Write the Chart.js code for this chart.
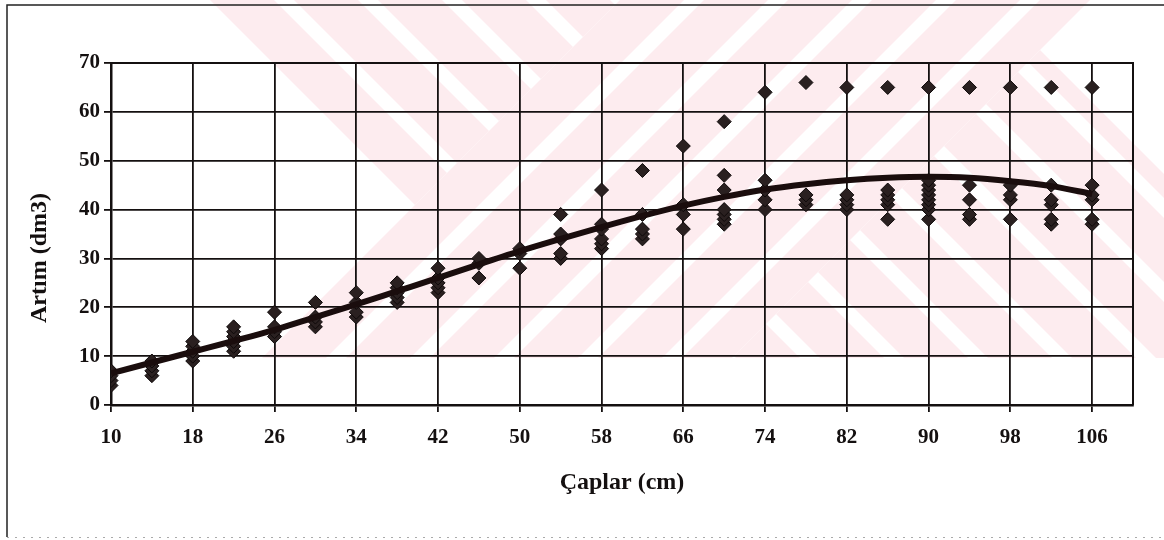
<!DOCTYPE html>
<html>
<head>
<meta charset="utf-8">
<script src="https://cdn.jsdelivr.net/npm/chart.js@4/dist/chart.umd.min.js"></script>
<style>
  html, body { margin: 0; padding: 0; background: #fff; }
  #wrap { position: relative; width: 1164px; height: 540px; }
</style>
</head>
<body>
<div id="wrap"><canvas id="c" width="1164" height="540"></canvas></div>
<script>
// ---- data ----
const diameters = [10,14,18,22,26,30,34,38,42,46,50,54,58,62,66,70,74,78,82,86,90,94,98,102,106];
const increments = [
  [4,5,6,7],
  [6,7,8,9],
  [9,10,11,12,13],
  [11,12,13,14,15,16],
  [14,15,16,19],
  [16,17,18,21],
  [18,19,21,23],
  [21,22,23,24,25],
  [23,24,25,26,28],
  [26,29,30],
  [28,31,32],
  [30,31,34,35,39],
  [32,33,34,36,37,44],
  [34,35,36,39,48],
  [36,39,41,53],
  [37,38,39,40,44,47,58],
  [40,42,44,46,64],
  [41,42,43,66],
  [40,41,42,43,65],
  [38,41,42,43,44,65],
  [38,40,41,42,43,44,45,46,65],
  [38,39,42,45,65],
  [38,42,43,45,65],
  [37,38,41,42,45,65],
  [37,38,42,43,45,65]
];
const trendValues = [6.5,8.7,10.9,13.1,15.4,18,20.6,23.3,26,28.8,31.5,34,36.4,38.7,40.8,42.6,44.1,45.2,46,46.5,46.7,46.5,45.8,44.8,43.2];
const xTickValues = [10,18,26,34,42,50,58,66,74,82,90,98,106];
const yTickValues = [0,10,20,30,40,50,60,70];
const xTitle = 'Çaplar (cm)';
const yTitle = 'Artım (dm3)';

// build datasets from arrays
const scatterPoints = [];
diameters.forEach((d, i) => increments[i].forEach(v => scatterPoints.push({x: d, y: v})));
const trendPoints = diameters.map((d, i) => ({x: d, y: trendValues[i]}));

const FONT = '"Liberation Serif", "Times New Roman", serif';
const INK = '#141010';

function stripes(ctx, from, to, dir, H) {
  // dir = 1 for "\" bands (x - y = d), -1 for "/" bands (x + y = d)
  for (let d = from; d < to; d += 84) {
    const w = Math.min(64, to - d);
    ctx.beginPath();
    ctx.moveTo(d, 0); ctx.lineTo(d + w, 0);
    ctx.lineTo(d + w + dir * H, H); ctx.lineTo(d + dir * H, H);
    ctx.closePath(); ctx.fill();
  }
}

const backdrop = {
  id: 'backdrop',
  beforeDraw(chart) {
    const ctx = chart.ctx;
    ctx.save();
    ctx.fillStyle = '#fff';
    ctx.fillRect(0, 0, chart.width, chart.height);
    // faint watermark of the scanned page
    const H = 358;
    ctx.beginPath();
    ctx.rect(205, 0, 959, H);
    ctx.clip();
    ctx.fillStyle = '#fdecef';
    stripes(ctx, 210, 990, 1, H);
    // "/" arm lies over the "\" arm
    ctx.fillStyle = '#fff';
    ctx.beginPath();
    ctx.moveTo(620, 0); ctx.lineTo(1090, 0); ctx.lineTo(1090 - H, H); ctx.lineTo(620 - H, H);
    ctx.closePath(); ctx.fill();
    ctx.fillStyle = '#fdecef';
    stripes(ctx, 620, 1090, -1, H);
    ctx.restore();
  },
  afterDraw(chart) {
    const ctx = chart.ctx;
    const a = chart.chartArea;
    ctx.save();
    // plot frame top & right
    ctx.strokeStyle = INK;
    ctx.lineWidth = 2;
    ctx.beginPath();
    ctx.moveTo(a.left, a.top); ctx.lineTo(a.right, a.top); ctx.lineTo(a.right, a.bottom);
    ctx.stroke();
    // outer frame of the figure
    ctx.lineWidth = 1.5;
    ctx.strokeStyle = '#222';
    ctx.beginPath();
    ctx.moveTo(7, 537); ctx.lineTo(7, 5); ctx.lineTo(1164, 5);
    ctx.stroke();
    ctx.strokeStyle = '#aaa';
    ctx.lineWidth = 1;
    ctx.setLineDash([2, 6]);
    ctx.beginPath();
    ctx.moveTo(7, 537.5); ctx.lineTo(1164, 537.5);
    ctx.stroke();
    ctx.setLineDash([]);
    // y axis title
    ctx.translate(40, 258);
    ctx.rotate(-Math.PI / 2);
    ctx.fillStyle = INK;
    ctx.font = 'bold 24px ' + FONT;
    ctx.textAlign = 'center';
    ctx.textBaseline = 'middle';
    ctx.fillText(yTitle, 0, 0);
    ctx.restore();
  }
};

new Chart(document.getElementById('c'), {
  type: 'scatter',
  data: {
    datasets: [
      {
        label: 'Trend',
        data: trendPoints,
        showLine: true,
        borderColor: '#1a0d0d',
        borderWidth: 6,
        pointRadius: 0,
        tension: 0.4,
        cubicInterpolationMode: 'monotone',
        order: 0
      },
      {
        label: 'Artım',
        data: scatterPoints,
        pointStyle: 'rectRot',
        pointRadius: 7,
        backgroundColor: '#2a2020',
        borderColor: '#0e0909',
        borderWidth: 1,
        order: 1
      }
    ]
  },
  plugins: [backdrop],
  options: {
    responsive: false,
    animation: false,
    events: [],
    layout: { padding: { left: 0, top: 63, right: 31, bottom: 0 } },
    plugins: { legend: { display: false }, tooltip: { enabled: false } },
    scales: {
      x: {
        type: 'linear',
        min: 10,
        max: 110,
        afterBuildTicks(scale) { scale.ticks = xTickValues.map(v => ({ value: v })); },
        afterFit(scale) { scale.height = 135; },
        grid: { color: INK, lineWidth: 1.8, tickLength: 7, drawTicks: true },
        border: { display: true, color: INK, width: 2.5 },
        ticks: {
          color: INK,
          font: { family: FONT, size: 21, weight: 'bold' },
          padding: 13,
          maxRotation: 0,
          autoSkip: false,
          callback: v => String(v)
        },
        title: {
          display: true,
          text: xTitle,
          color: INK,
          font: { family: FONT, size: 24, weight: 'bold' },
          padding: { top: 0, bottom: 43 }
        }
      },
      y: {
        type: 'linear',
        min: 0,
        max: 70,
        afterBuildTicks(scale) { scale.ticks = yTickValues.map(v => ({ value: v })); },
        afterFit(scale) { scale.width = 111; },
        grid: { color: INK, lineWidth: 1.8, tickLength: 7 },
        border: { display: true, color: INK, width: 2.5 },
        ticks: {
          color: INK,
          font: { family: FONT, size: 21, weight: 'bold' },
          padding: 4,
          callback: v => String(v)
        }
      }
    }
  }
});
</script>
</body>
</html>
